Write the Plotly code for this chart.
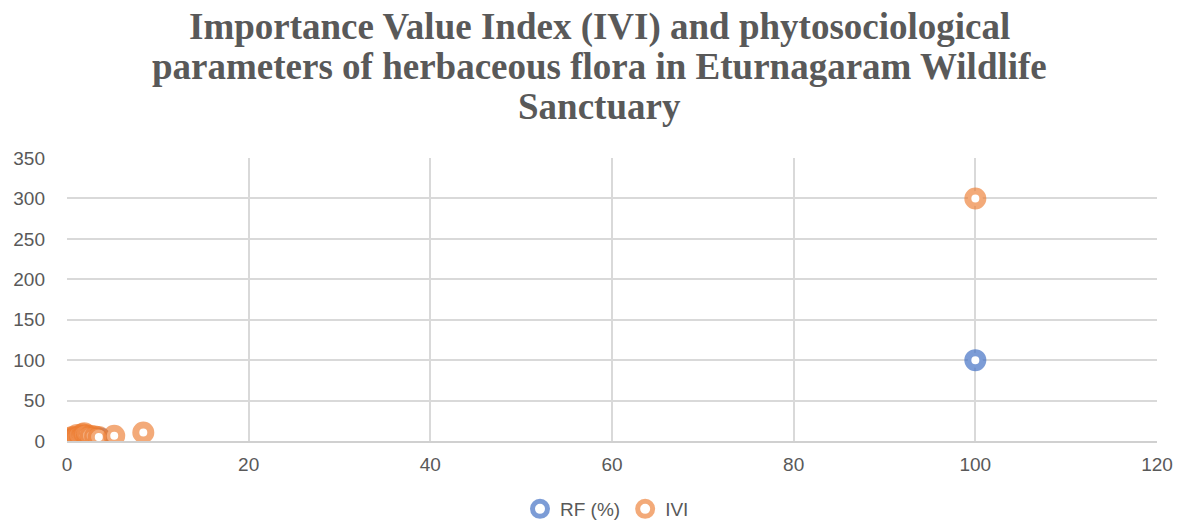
import plotly.graph_objects as go

# RF (%) series
rf_x = [0.2, 0.4, 0.6, 0.8, 1.0, 1.3, 1.6, 1.9, 2.2, 2.5, 2.9, 3.3, 3.7, 100]
rf_y = [1.2, 1.8, 1.5, 2.2, 1.9, 2.6, 2.4, 2.8, 2.5, 3.0, 2.7, 3.2, 3.0, 100]

# IVI series
ivi_x = [0.3, 0.6, 0.9, 1.1, 1.4, 1.7, 1.9, 2.2, 2.6, 3.1, 3.5, 5.2, 8.4, 100]
ivi_y = [3.5, 5.0, 4.2, 7.5, 6.0, 8.5, 9.5, 7.0, 6.5, 5.5, 4.8, 6.5, 10.5, 300]

title_lines = [
    "Importance Value Index (IVI) and phytosociological",
    "parameters of herbaceous flora in Eturnagaram Wildlife",
    "Sanctuary",
]

W, H = 1177, 526
L, R, T, B = 67, 20, 158, 85
ph = H - T - B
pw = W - L - R

fig = go.Figure()
fig.add_trace(go.Scatter(
    x=rf_x, y=rf_y, mode="markers", name="RF (%)",
    marker=dict(symbol="circle", size=15, color="white",
                line=dict(color="rgba(68,114,196,0.7)", width=7)),
))
fig.add_trace(go.Scatter(
    x=ivi_x, y=ivi_y, mode="markers", name="IVI",
    marker=dict(symbol="circle", size=15, color="white",
                line=dict(color="rgba(237,125,49,0.65)", width=7)),
))

# title as three centered lines
line_centers = [27, 67, 106]
for txt, yc in zip(title_lines, line_centers):
    fig.add_annotation(
        text=txt, xref="paper", yref="paper",
        x=(599 - L) / pw, y=1 + (T - yc) / ph,
        xanchor="center", yanchor="middle", showarrow=False,
        font=dict(family="Liberation Serif", size=37, color="#595959", weight="bold"),
    )

fig.update_layout(
    width=W, height=H,
    paper_bgcolor="white", plot_bgcolor="white",
    margin=dict(l=L, r=R, t=T, b=B),
    font=dict(family="Liberation Sans", color="#595959", size=19),
    showlegend=True,
    legend=dict(orientation="h", x=(607 - L) / pw, xanchor="center",
                yref="container", y=1 - 509 / H, yanchor="middle",
                font=dict(size=19, color="#595959")),
    xaxis=dict(range=[0, 120], dtick=20, showgrid=True, gridcolor="#D9D9D9", gridwidth=1.5,
               zeroline=False, showline=True, linecolor="#D0D0D0", linewidth=1.5, ticks="",
               tickfont=dict(size=19, color="#595959"), automargin=False,
               ticklabelstandoff=5),
    yaxis=dict(range=[0, 350], dtick=50, showgrid=True, gridcolor="#D9D9D9", gridwidth=1.5,
               zeroline=False, showline=False, ticks="",
               tickfont=dict(size=19, color="#595959"), automargin=False,
               ticklabelstandoff=21),
)

fig.write_html("out.html", config={"displayModeBar": False},
               post_script="document.body.style.margin='0';")
